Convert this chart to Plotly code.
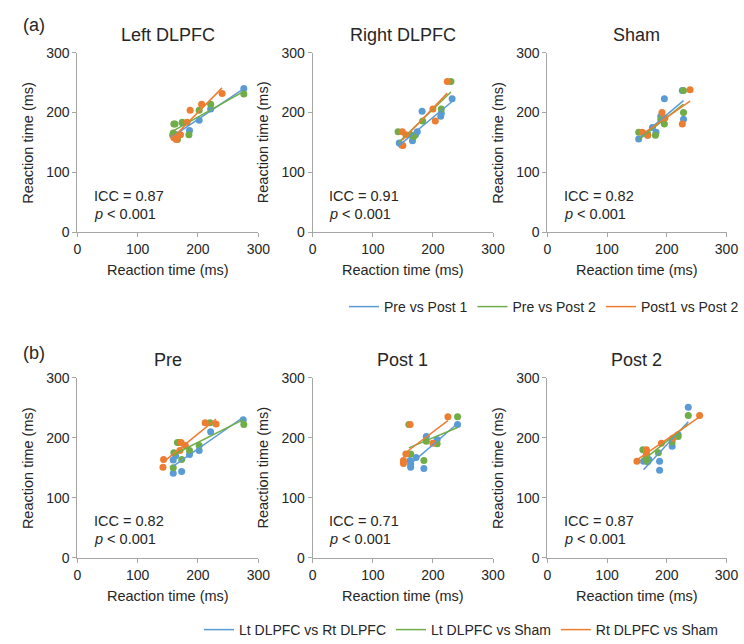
import numpy as np
import plotly.graph_objects as go

# ---------------- data ----------------
PANEL_TITLES = ["Left DLPFC", "Right DLPFC", "Sham", "Pre", "Post 1", "Post 2"]
ICC_VALUES = ["0.87", "0.91", "0.82", "0.82", "0.71", "0.87"]
LEGEND_A = ["Pre vs Post 1", "Pre vs Post 2", "Post1 vs Post 2"]
LEGEND_B = ["Lt DLPFC vs Rt DLPFC", "Lt DLPFC vs Sham", "Rt DLPFC vs Sham"]
TICK_VALUES = [0, 100, 200, 300]

# (a) Left DLPFC
LEFT_S1_X = [158, 161, 164, 174, 186, 202, 221, 276]
LEFT_S1_Y = [162, 158, 163, 183, 170, 187, 206, 240]
LEFT_S2_X = [160, 162, 159, 166, 174, 185, 202, 221, 276]
LEFT_S2_Y = [181, 181, 166, 155, 184, 163, 204, 214, 231]
LEFT_S3_X = [160, 164, 171, 182, 187, 206, 240]
LEFT_S3_Y = [158, 155, 163, 184, 204, 214, 232]

# (a) Right DLPFC
RIGHT_S1_X = [144, 148, 166, 171, 174, 182, 214, 213, 232]
RIGHT_S1_Y = [149, 146, 153, 163, 168, 202, 199, 194, 223]
RIGHT_S2_X = [142, 163, 168, 183, 214, 230]
RIGHT_S2_Y = [168, 163, 160, 186, 206, 252]
RIGHT_S3_X = [149, 155, 150, 200, 204, 224]
RIGHT_S3_Y = [168, 163, 145, 206, 186, 252]

# (a) Sham
SHAM_S1_X = [226, 196, 190, 228, 176, 182, 153, 168]
SHAM_S1_Y = [237, 223, 194, 189, 175, 167, 156, 162]
SHAM_S2_X = [228, 228, 196, 181, 153, 168, 190]
SHAM_S2_Y = [237, 200, 181, 162, 167, 164, 188]
SHAM_S3_X = [239, 226, 192, 197, 159, 168]
SHAM_S3_Y = [238, 181, 200, 191, 167, 162]

# (b) Pre
PRE_S1_X = [275, 221, 202, 186, 159, 163, 159, 173]
PRE_S1_Y = [230, 210, 179, 172, 163, 170, 141, 144]
PRE_S2_X = [276, 220, 166, 169, 160, 173, 159, 186, 202]
PRE_S2_Y = [222, 225, 192, 192, 175, 164, 150, 179, 187]
PRE_S3_X = [212, 230, 143, 142, 172, 179, 170]
PRE_S3_Y = [225, 223, 164, 151, 192, 187, 179]

# (b) Post 1
POST1_S1_X = [241, 189, 207, 162, 163, 163, 172, 185]
POST1_S1_Y = [222, 202, 197, 162, 151, 156, 167, 149]
POST1_S2_X = [241, 160, 163, 185, 207, 189]
POST1_S2_Y = [235, 222, 173, 162, 190, 194]
POST1_S3_X = [225, 162, 155, 151, 151, 200]
POST1_S3_Y = [235, 222, 173, 162, 157, 191]

# (b) Post 2
POST2_S1_X = [236, 219, 209, 188, 188, 161, 170, 166]
POST2_S1_Y = [251, 205, 186, 161, 146, 161, 164, 165]
POST2_S2_X = [236, 219, 209, 186, 160, 168, 165]
POST2_S2_Y = [237, 202, 193, 175, 180, 160, 166]
POST2_S3_X = [255, 210, 191, 150, 166, 166]
POST2_S3_Y = [237, 199, 191, 161, 174, 180]

PANELS = [
    [(LEFT_S1_X, LEFT_S1_Y), (LEFT_S2_X, LEFT_S2_Y), (LEFT_S3_X, LEFT_S3_Y)],
    [(RIGHT_S1_X, RIGHT_S1_Y), (RIGHT_S2_X, RIGHT_S2_Y), (RIGHT_S3_X, RIGHT_S3_Y)],
    [(SHAM_S1_X, SHAM_S1_Y), (SHAM_S2_X, SHAM_S2_Y), (SHAM_S3_X, SHAM_S3_Y)],
    [(PRE_S1_X, PRE_S1_Y), (PRE_S2_X, PRE_S2_Y), (PRE_S3_X, PRE_S3_Y)],
    [(POST1_S1_X, POST1_S1_Y), (POST1_S2_X, POST1_S2_Y), (POST1_S3_X, POST1_S3_Y)],
    [(POST2_S1_X, POST2_S1_Y), (POST2_S2_X, POST2_S2_Y), (POST2_S3_X, POST2_S3_Y)],
]

# ---------------- style / layout ----------------
W, H = 744, 644
COLORS = ["#5B9BD5", "#70AD47", "#ED7D31"]
FONT = "Liberation Sans, Arial, sans-serif"
TEXT_COLOR = "#262626"
AXIS_COLOR = "#a6a6a6"

COL_PX = [(77.3, 258.3), (312.7, 493.0), (547.3, 726.5)]
ROW_PX = [(52.7, 232.3), (377.7, 557.9)]


def px_x(p):
    return p / W


def px_y(p):
    return 1 - p / H


fig = go.Figure()
layout = dict(
    width=W, height=H,
    margin=dict(l=0, r=0, t=0, b=0, autoexpand=False),
    paper_bgcolor="white", plot_bgcolor="white",
    font=dict(family=FONT, color=TEXT_COLOR, size=14),
    showlegend=True,
)

annotations = []

for i in range(6):
    r, c = divmod(i, 3)
    ax = "" if i == 0 else str(i + 1)
    xref, yref = "x" + ax, "y" + ax
    x0, x1 = COL_PX[c]
    yt, yb = ROW_PX[r]
    common = dict(
        range=[0, 300], tickvals=TICK_VALUES, showgrid=False, zeroline=False,
        showline=True, linecolor=AXIS_COLOR, linewidth=1,
        ticks="outside", ticklen=4, tickcolor=AXIS_COLOR, tickwidth=1,
        tickfont=dict(family=FONT, size=14, color=TEXT_COLOR),
        fixedrange=True,
    )
    layout["xaxis" + ax] = dict(common, domain=[px_x(x0), px_x(x1)], anchor=yref)
    layout["yaxis" + ax] = dict(common, domain=[px_y(yb), px_y(yt)], anchor=xref)

    # markers
    for k, (xs, ys) in enumerate(PANELS[i]):
        fig.add_trace(go.Scatter(
            x=xs, y=ys, mode="markers", xaxis=xref, yaxis=yref,
            marker=dict(color=COLORS[k], size=7, line=dict(width=0)),
            showlegend=False, hoverinfo="skip",
        ))
    # linear trend lines
    for k, (xs, ys) in enumerate(PANELS[i]):
        xa = np.array(xs, dtype=float)
        ya = np.array(ys, dtype=float)
        slope, icpt = np.polyfit(xa, ya, 1)
        lx = np.array([xa.min(), xa.max()])
        ly = slope * lx + icpt
        names = LEGEND_A if r == 0 else LEGEND_B
        fig.add_trace(go.Scatter(
            x=lx, y=ly, mode="lines", xaxis=xref, yaxis=yref,
            line=dict(color=COLORS[k], width=1.5),
            name=names[k],
            showlegend=(c == 0),
            legend="legend" if r == 0 else "legend2",
            hoverinfo="skip",
        ))

    cx = (x0 + x1) / 2
    # panel title
    annotations.append(dict(
        text=PANEL_TITLES[i], xref="paper", yref="paper",
        x=px_x(cx), y=px_y(yt - 18), xanchor="center", yanchor="middle",
        showarrow=False, font=dict(size=18, family=FONT, color=TEXT_COLOR)))
    # x title
    annotations.append(dict(
        text="Reaction time (ms)", xref="paper", yref="paper",
        x=px_x(cx), y=px_y(yb + 38), xanchor="center", yanchor="middle",
        showarrow=False, font=dict(size=14.5, family=FONT, color=TEXT_COLOR)))
    # y title
    annotations.append(dict(
        text="Reaction time (ms)", xref="paper", yref="paper",
        x=px_x(x0 - 50), y=px_y((yt + yb) / 2), xanchor="center", yanchor="middle",
        textangle=-90, showarrow=False,
        font=dict(size=14.5, family=FONT, color=TEXT_COLOR)))
    # ICC text
    annotations.append(dict(
        text="ICC = " + ICC_VALUES[i], xref=xref, yref=yref,
        x=24, y=61, xanchor="left", yanchor="middle", showarrow=False,
        font=dict(size=14.5, family=FONT, color=TEXT_COLOR)))
    annotations.append(dict(
        text="<i>p</i> < 0.001", xref=xref, yref=yref,
        x=24, y=31, xanchor="left", yanchor="middle", showarrow=False,
        font=dict(size=14.5, family=FONT, color=TEXT_COLOR)))

annotations.append(dict(text="(a)", xref="paper", yref="paper",
                        x=px_x(21), y=px_y(25), xanchor="left", yanchor="middle",
                        showarrow=False, font=dict(size=18, family=FONT, color=TEXT_COLOR)))
annotations.append(dict(text="(b)", xref="paper", yref="paper",
                        x=px_x(21), y=px_y(353), xanchor="left", yanchor="middle",
                        showarrow=False, font=dict(size=18, family=FONT, color=TEXT_COLOR)))

layout["annotations"] = annotations
layout["legend"] = dict(
    orientation="h", x=px_x(344), y=px_y(307), xanchor="left", yanchor="middle",
    font=dict(size=14, family=FONT, color=TEXT_COLOR), bgcolor="rgba(0,0,0,0)",
    borderwidth=0, itemclick=False, itemdoubleclick=False)
layout["legend2"] = dict(
    orientation="h", x=px_x(199), y=px_y(630), xanchor="left", yanchor="middle",
    font=dict(size=14, family=FONT, color=TEXT_COLOR), bgcolor="rgba(0,0,0,0)",
    borderwidth=0, itemclick=False, itemdoubleclick=False)

fig.update_layout(**layout)
fig.write_html(
    "out.html",
    config={"displayModeBar": False},
    post_script="document.body.style.margin='0px';document.body.style.overflow='hidden';",
)
